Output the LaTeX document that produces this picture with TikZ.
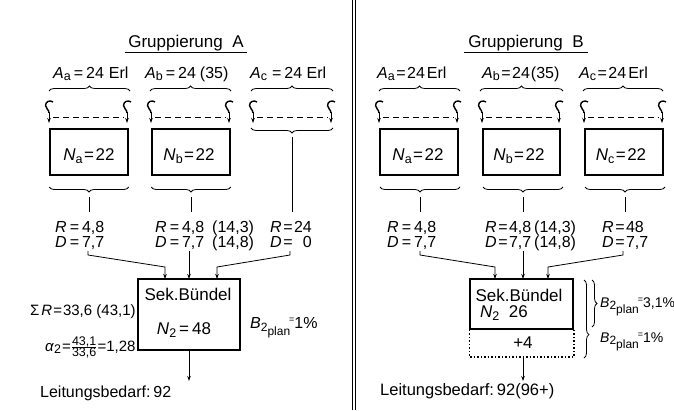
\documentclass[tikz,border=0pt]{standalone}
\usepackage{fontspec}
\setmainfont{Liberation Sans}
\usetikzlibrary{arrows.meta,decorations.pathreplacing,calc}
\newcommand\iv[1]{\textit{#1}}
\newcommand\sbs[1]{\raisebox{-0.35ex}{\fontsize{12.5}{12.5}\selectfont #1}}
\newcommand\eq{\hspace{3pt}=\hspace{3pt}}
\newcommand\eqn{\hspace{1.5pt}=\hspace{1.5pt}}
\newcommand\bplan[1]{\iv{B}\raisebox{-0.4ex}{\fontsize{12}{12}\selectfont 2}\raisebox{-0.9ex}{\fontsize{12}{12}\selectfont plan}\hspace{-1pt}\raisebox{0.6ex}{\fontsize{9}{9}\selectfont =}#1}
\tikzset{
  pics/hookdn/.style={code={
    \draw[line width=1.4pt] (4,1) .. controls (1.5,-1) and (-3.5,0) .. (-3.5,4.5) .. controls (-3.5,8) and (0,8) .. (0,12);
    \draw[-{Stealth[length=5pt,width=3.5pt]}, line width=0.8pt] (0,11) -- (0,22);
  }}
}
\begin{document}
\begin{tikzpicture}[x=1pt,y=-1pt,
  every node/.style={inner sep=0pt},
  ttl/.style={font=\fontsize{17}{17}\selectfont, anchor=base},
  lbl/.style={font=\fontsize{16}{16}\selectfont, anchor=base west},
  txt/.style={font=\fontsize{16}{16}\selectfont, anchor=base west},
  numbox/.style={draw, line width=1.5pt, minimum width=78pt, minimum height=46pt},
  boxtxt/.style={font=\fontsize{17}{17}\selectfont, anchor=base},
  brc/.style={decorate, decoration={brace, amplitude=5pt}, line width=0.8pt},
  conarrow/.style={-{Stealth[length=5pt,width=3.5pt]}, line width=0.8pt},
  ln/.style={line width=0.8pt},
  dashln/.style={dashed, dash pattern=on 6pt off 4pt, line width=0.8pt},
  rd/.style={anchor=base west, align=left, font=\fontsize{16}{15}\selectfont},
  sekbox/.style={draw, line width=1.5pt}]
\useasboundingbox (0,0) rectangle (674,410);

% separator
\draw[line width=0.9pt] (352.5,0) -- (352.5,410);
\draw[line width=0.9pt] (355.5,0) -- (355.5,410);

%================ Gruppierung A =================
\node[ttl] (tA) at (186,47) {Gruppierung\ \ A};
\draw[ln] ($(tA.base west)+(-3,5)$) -- ($(tA.base east)+(3,5)$);
\node[lbl] (LAa) at (53,78) {\iv{A}\sbs{a}\eq 24\hspace{5pt}Erl};
\node[lbl] (LAb) at (145,78) {\iv{A}\sbs{b}\eq 24\hspace{4pt}(35)};
\node[lbl] (LAc) at (250,78) {\iv{A}\sbs{c}\hspace{2pt}\eq 24 Erl};

\draw[brc] (49,91) -- (130,91);
\draw[brc] (150,91) -- (231,91);
\draw[brc] (251,91) -- (333,91);

\pic at (49,101) {hookdn}; \pic at (127,101) {hookdn};
\draw[dashln] (53,117) -- (124,117);
\pic at (151,101) {hookdn}; \pic at (229,101) {hookdn};
\draw[dashln] (155,117) -- (226,117);
\pic at (253,101) {hookdn}; \pic at (331,101) {hookdn};
\draw[dashln] (257,117) -- (328,117);

\node[numbox] (NAa) at (89,152) {};
\node[boxtxt] (tNAa) at (89,160) {\iv{N}\sbs{a}\eqn 22};
\node[numbox] (NAb) at (191,152) {};
\node[boxtxt] (tNAb) at (189,160) {\iv{N}\sbs{b}\eqn 22};

\draw[brc] (333,128) -- (251,128);
\coordinate (cAc1) at (292,137);
\coordinate (cAc2) at (292,212);
\draw[ln] (cAc1) -- (cAc2);

\draw[brc] (NAa.south east |- 0,187) -- (NAa.south west |- 0,187);
\draw[brc] (NAb.south east |- 0,187) -- (NAb.south west |- 0,187);
\draw[ln] (89,197) -- (89,212);
\draw[ln] (191,197) -- (191,212);

\node[rd] (RDAa) at (55,247) {\iv{R}\eq 4,8\\\iv{D}\eq 7,7};
\node[rd] (RDAb) at (155,247) {\makebox[57pt][l]{\iv{R}\eq 4,8}(14,3)\\\makebox[57pt][l]{\iv{D}\eq 7,7}(14,8)};
\node[rd] (RDAc) at (270,247) {\iv{R}\eqn 24\\\iv{D}\eqn\ \ 0};

\node[sekbox, minimum width=102pt, minimum height=71pt] (SBA) at (189,314.5) {};
\node[boxtxt] (SBAt) at (188,300) {Sek.Bündel};
\node[boxtxt] (SBAn) at (184,334) {\iv{N}\sbs{2}\eq 48};

\draw[conarrow] (88,251) -- (88,255) -- (165,267) -- (165,279);
\draw[conarrow] (189,251) -- (189,279);
\draw[conarrow] (290,251) -- (290,255) -- (217,267) -- (217,279);

\coordinate (outA) at (189,381);
\draw[conarrow] (SBA.south) -- (outA);
\node[txt] (LbA) at (40,397) {Leitungsbedarf:\hspace{3pt}92};

\node[txt, font=\fontsize{15}{15}\selectfont] (sumR) at (30,315) {Σ\hspace{2pt}\iv{R}\hspace{1pt}=\hspace{1pt}33,6 (43,1)};
\node[txt, font=\fontsize{15}{15}\selectfont] (alph) at (45,351) {\iv{α}\sbs{2}\hspace{1pt}=$\frac{\mbox{\fontsize{12.5}{12.5}\selectfont 43,1}}{\mbox{\fontsize{12.5}{12.5}\selectfont 33,6}}$=1,28};
\node[txt] (BA) at (250,328) {\bplan{1\%}};

%================ Gruppierung B =================
\node[ttl] (tB) at (526,47) {Gruppierung\ \ B};
\draw[ln] ($(tB.base west)+(-4,5)$) -- ($(tB.base east)+(4,5)$);
\node[lbl] (LBa) at (377,78) {\iv{A}\sbs{a}\eqn 24\hspace{2pt}Erl};
\node[lbl] (LBb) at (482,78) {\iv{A}\sbs{b}\eqn 24\hspace{1pt}(35)};
\node[lbl] (LBc) at (579,78) {\iv{A}\sbs{c}\eqn 24\hspace{2pt}Erl};

\draw[brc] (379,91) -- (460,91);
\draw[brc] (480,91) -- (563,91);
\draw[brc] (583,91) -- (663,91);

\pic at (379,101) {hookdn}; \pic at (457,101) {hookdn};
\draw[dashln] (383,117) -- (454,117);
\pic at (482,101) {hookdn}; \pic at (559,101) {hookdn};
\draw[dashln] (486,117) -- (556,117);
\pic at (584,101) {hookdn}; \pic at (662,101) {hookdn};
\draw[dashln] (588,117) -- (659,117);

\node[numbox] (NBa) at (419,152) {};
\node[boxtxt] (tNBa) at (418,160) {\iv{N}\sbs{a}\eqn 22};
\node[numbox, minimum width=77pt] (NBb) at (521.5,152) {};
\node[boxtxt] (tNBb) at (519,160) {\iv{N}\sbs{b}\eqn 22};
\node[numbox] (NBc) at (624,152) {};
\node[boxtxt] (tNBc) at (621,160) {\iv{N}\sbs{c}\eqn 22};

\draw[brc] (460,187) -- (380,187);
\draw[brc] (563,187) -- (483,187);
\draw[brc] (665,187) -- (585,187);
\draw[ln] (420,197) -- (420,212);
\draw[ln] (523,197) -- (523,212);
\draw[ln] (625,197) -- (625,212);

\node[rd] (RDBa) at (387,247) {\iv{R}\eq 4,8\\\iv{D}\eq 7,7};
\node[rd] (RDBb) at (485,247) {\makebox[49pt][l]{\iv{R}\eqn 4,8}(14,3)\\\makebox[49pt][l]{\iv{D}\eqn 7,7}(14,8)};
\node[rd] (RDBc) at (602,247) {\iv{R}\eqn 48\\\iv{D}\eqn 7,7};

\node[sekbox, minimum width=103pt, minimum height=50pt] (SBB) at (521.5,304) {};
\coordinate (dotbot) at (521.5,357);
\draw[dotted, line width=1.5pt] (SBB.south west) -- (SBB.south west |- dotbot) -- (SBB.south east |- dotbot) -- (SBB.south east);
\node[boxtxt] (SBBt) at (519,301) {Sek.Bündel};
\node[boxtxt] (SBBn) at (504,317) {\iv{N}\sbs{2}\ \ 26};
\node[boxtxt] (SBBp) at (523,348) {+4};

\draw[conarrow] (420,251) -- (420,255) -- (495,267) -- (495,279);
\draw[conarrow] (523,251) -- (523,279);
\draw[conarrow] (623,251) -- (623,255) -- (548,267) -- (548,279);

\coordinate (outB) at (523,381);
\draw[conarrow] (dotbot -| 523,0) -- (outB);
\node[txt, font=\fontsize{16.5}{16.5}\selectfont] (LbB) at (380,395) {Leitungsbedarf:\hspace{3pt}92(96+)};

\draw[brc, decoration={brace, amplitude=5pt, aspect=0.7}] (584,280) -- (584,358);
\draw[brc] (592,280) -- (592,327);
\node[txt, font=\fontsize{14}{14}\selectfont] (BB1) at (600,307) {\bplan{3,1\%}};
\node[txt, font=\fontsize{14}{14}\selectfont] (BB2) at (600,342) {\bplan{1\%}};
\end{tikzpicture}
\end{document}
